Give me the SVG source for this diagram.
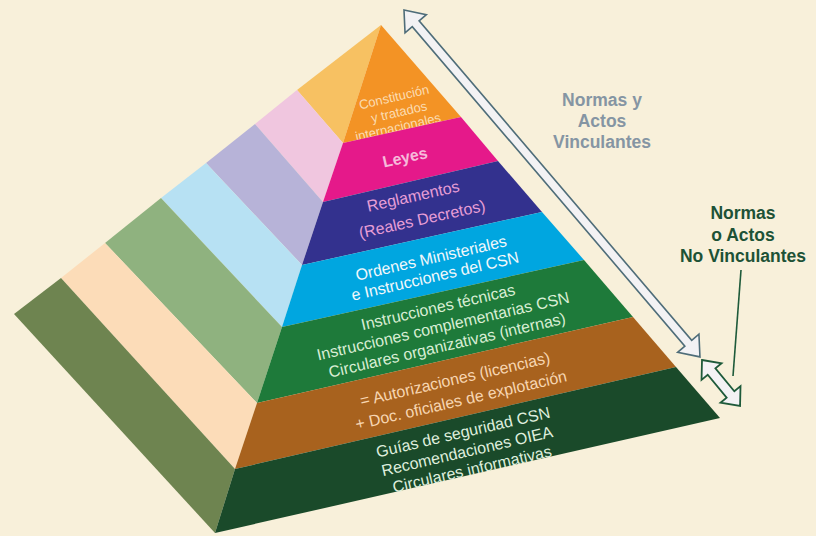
<svg xmlns="http://www.w3.org/2000/svg" width="816" height="536" viewBox="0 0 816 536">
<style>
.t{font-family:"Liberation Sans",Arial,Helvetica,sans-serif;text-anchor:middle;}
.lab{font-size:16px;}
.side{font-size:17.5px;font-weight:bold;}
.arr1{fill:#f3f2f4;stroke:#4f6d79;stroke-width:1.6;stroke-linejoin:miter;}
.arr2{fill:#f3f2f4;stroke:#1e5a3a;stroke-width:1.8;stroke-linejoin:miter;}
</style>
<rect width="816" height="536" fill="#f8f0da"/>

<g id="band-constitucion">
<polygon points="381,25 297,90 343,143" fill="#f7c162"/>
<polygon points="381,25 461,117 343,143" fill="#f39325"/>
<g class="t" fill="#fbdcb2" font-size="13">
<text transform="translate(394,97) rotate(-13)" y="4.5">Constitución</text>
<text transform="translate(399,112) rotate(-13)" y="4.5">y tratados</text>
<text transform="translate(398,127) rotate(-13)" y="4.5">internacionales</text>
</g>
</g>

<g id="band-leyes">
<polygon points="297,90 255,124 323,202 343,143" fill="#f0c6df"/>
<polygon points="343,143 461,117 498,161 323,202" fill="#e5198a"/>
<text class="t" transform="translate(405,157) rotate(-12.5)" y="5.8" font-size="16" font-weight="bold" fill="#f6b9da">Leyes</text>
</g>

<g id="band-reglamentos">
<polygon points="255,124 206,163 302,265 323,202" fill="#b7b3d8"/>
<polygon points="323,202 498,161 542,212 302,265" fill="#33318e"/>
<g class="t lab" fill="#e79ed6">
<text transform="translate(413,196) rotate(-12.5)" y="5.6">Reglamentos</text>
<text transform="translate(422,219) rotate(-12.5)" y="5.6">(Reales Decretos)</text>
</g>
</g>

<g id="band-ordenes">
<polygon points="206,163 161,198 282,327 302,265" fill="#b7e1f3"/>
<polygon points="302,265 542,212 584,260 282,327" fill="#00a6e0"/>
<g class="t lab" fill="#f2f8fb">
<text transform="translate(431,258) rotate(-13)" y="5.6">Ordenes Ministeriales</text>
<text transform="translate(435,276) rotate(-13)" y="5.6">e Instrucciones del CSN</text>
</g>
</g>

<g id="band-instrucciones">
<polygon points="161,198 105,243 257,403 282,327" fill="#8fb27f"/>
<polygon points="282,327 584,260 633,317 257,403" fill="#1e7a3a"/>
<g class="t lab" fill="#d9eed4">
<text transform="translate(438,307) rotate(-13)" y="5.6">Instrucciones técnicas</text>
<text transform="translate(443,326) rotate(-13)" y="5.6">Instrucciones complementarias CSN</text>
<text transform="translate(447,345) rotate(-13)" y="5.6">Circulares organizativas (internas)</text>
</g>
</g>

<g id="band-autorizaciones">
<polygon points="105,243 61,278 235,469 257,403" fill="#fcdcb8"/>
<polygon points="257,403 633,317 676,367 235,469" fill="#a8621e"/>
<g class="t lab" fill="#f7d6b2">
<text transform="translate(455,379) rotate(-13)" y="5.6">= Autorizaciones (licencias)</text>
<text transform="translate(461,400) rotate(-13)" y="5.6">+ Doc. oficiales de explotación</text>
</g>
</g>

<g id="band-guias">
<polygon points="61,278 14,314 215,533 235,469" fill="#6e8450"/>
<polygon points="235,469 676,367 720,418 215,533" fill="#1a4a2a"/>
<g class="t lab" fill="#dfeedd">
<text transform="translate(463,432) rotate(-13)" y="5.6">Guías de seguridad CSN</text>
<text transform="translate(467,451) rotate(-13)" y="5.6">Recomendaciones OIEA</text>
<text transform="translate(472,469) rotate(-13)" y="5.6">Circulares informativas</text>
</g>
</g>

<g id="label-vinculantes" class="t side" fill="#8595a3">
<text x="602" y="106">Normas y</text>
<text x="602" y="127">Actos</text>
<text x="602" y="148">Vinculantes</text>
</g>

<g id="label-no-vinculantes" class="t side" fill="#1d5236">
<text x="743" y="219">Normas</text>
<text x="743" y="241">o Actos</text>
<text x="743" y="262">No Vinculantes</text>
</g>

<g id="connectors">
<path class="arr1" transform="translate(404,10) rotate(49.53)" d="M0,0 L18,-14 L18,-4.5 L438,-4.5 L438,-14 L456,0 L438,14 L438,4.5 L18,4.5 L18,14 Z"/>
<path class="arr2" transform="translate(702,360) rotate(50.4)" d="M0,0 L15,-13 L15,-5 L44.7,-5 L44.7,-13 L59.7,0 L44.7,13 L44.7,5 L15,5 L15,13 Z"/>
<line x1="741" y1="270" x2="733" y2="376" stroke="#1e5a3a" stroke-width="1.6"/>
</g>
</svg>
